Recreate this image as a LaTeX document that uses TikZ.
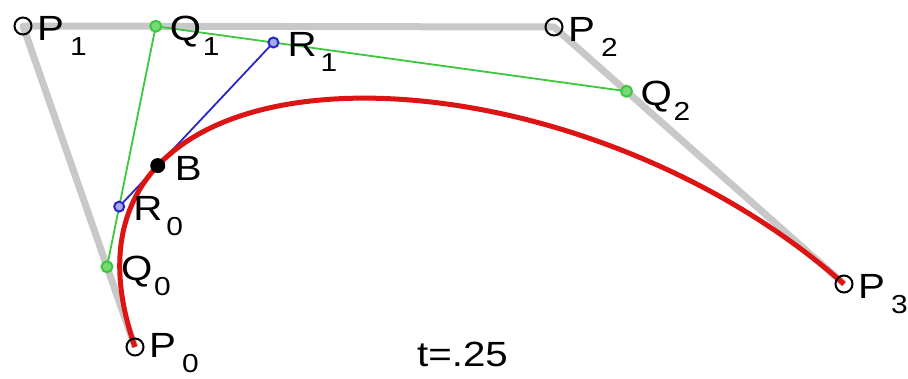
\documentclass[tikz,border=0pt]{standalone}
\usepackage{fontspec}
\setmainfont{Liberation Sans}[FakeStretch=1.15]
\usetikzlibrary{calc}
\definecolor{ctrlgray}{RGB}{200,200,200}
\definecolor{qgreen}{RGB}{60,200,60}
\definecolor{rblue}{RGB}{40,40,200}
\definecolor{curvered}{RGB}{220,20,20}
\newcommand{\subfnt}{\fontsize{26}{26}\selectfont}
\newcommand{\ptlabel}[2]{\makebox[33pt][l]{#1}\raisebox{-15pt}{\subfnt #2}}
\tikzset{
  hull/.style={line width=7pt, ctrlgray, line join=round},
  qline/.style={line width=1.8pt, qgreen},
  rline/.style={line width=1.8pt, rblue},
  curve/.style={line width=5pt, curvered},
  pmark/.style={draw=black, circle, line width=2pt, minimum size=17pt, inner sep=0pt},
  qmark/.style={draw=qgreen, fill=qgreen!70, circle, line width=2pt, minimum size=11pt, inner sep=0pt},
  rmark/.style={draw=rblue, fill=rblue!40, circle, line width=2pt, minimum size=10pt, inner sep=0pt},
  bmark/.style={fill=black, circle, minimum size=15pt, inner sep=0pt},
  lbl/.style={anchor=base west, inner sep=0pt, font=\fontsize{35}{40}\selectfont},
}
\begin{document}
\begin{tikzpicture}[x=1pt, y=-1pt]
  \useasboundingbox (0,0) rectangle (908,378);
  % control points
  \coordinate (P0) at (135,347);
  \coordinate (P1) at (23,26);
  \coordinate (P2) at (554,27);
  \coordinate (P3) at (844,284);
  % de Casteljau steps, t = .25
  \coordinate (Q0) at ($(P0)!0.25!(P1)$);
  \coordinate (Q1) at ($(P1)!0.25!(P2)$);
  \coordinate (Q2) at ($(P2)!0.25!(P3)$);
  \coordinate (R0) at ($(Q0)!0.25!(Q1)$);
  \coordinate (R1) at ($(Q1)!0.25!(Q2)$);
  \coordinate (B) at ($(R0)!0.25!(R1)$);

  \draw[hull] (P0) -- (P1) -- (P2) -- (P3);
  \draw[qline] (Q0) -- (Q1) -- (Q2);
  \draw[rline] (R0) -- (R1);
  \draw[curve] (P0) .. controls (P1) and (P2) .. (P3);

  \foreach \p in {P0,P1,P2,P3} \node[pmark] (m\p) at (\p) {};
  \foreach \q in {Q0,Q1,Q2} \node[qmark] (m\q) at (\q) {};
  \foreach \r in {R0,R1} \node[rmark] (m\r) at (\r) {};
  \node[bmark] (mB) at (B) {};

  \foreach \p/\l/\i/\dy in {P0/P/0/10,P1/P/1/14,P2/P/2/14,P3/P/3/14,Q0/Q/0/14,Q1/Q/1/14,Q2/Q/2/14,R0/R/0/14,R1/R/1/14}
    \node[lbl] (l\p) at ($(\p)+(14,\dy)$) {\ptlabel{\l}{\i}};
  \node[lbl] (lB) at ($(B)+(17,15)$) {B};

  \node[lbl] (tval) at (417,366) {t=.25};
\end{tikzpicture}
\end{document}
